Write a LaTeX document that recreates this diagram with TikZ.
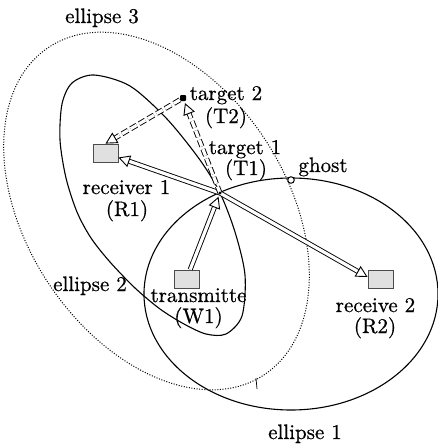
\documentclass[tikz,border=0pt]{standalone}
\usepackage{fontspec}
\setmainfont{lmroman10-regular}[Extension=.otf, FakeBold=0.7]
\usetikzlibrary{arrows.meta}
\begin{document}
\begin{tikzpicture}[x=1pt,y=-1pt,
  curve/.style={line width=1.1pt},
  dotcurve/.style={line width=1pt, dash pattern=on 1pt off 1.6pt},
  box/.style={draw=black!70, fill=black!12, line width=0.8pt,
    minimum width=25pt, minimum height=18pt, inner sep=0pt},
  lbl/.style={anchor=base, inner sep=0pt, font=\fontsize{21}{24}\selectfont},
  beam/.style={double, double distance=3.2pt, line width=0.9pt,
    -{Triangle[open,length=11.5pt,width=12pt]}},
  echo/.style={beam, dash pattern=on 7pt off 3pt},
]
\useasboundingbox (0,0) rectangle (437,447);

% ellipse 1: transmitter / receiver 2
\draw[curve] (291,294) ellipse [x radius=147pt, y radius=116pt];
% ellipse 3 (dotted)
\draw[dotcurve, rotate around={-56.8:(156.5,211)}]
  (156.5,211) ellipse [x radius=196pt, y radius=130pt];
% ellipse 2: transmitter / receiver 1
\draw[curve] plot[smooth cycle, tension=0.5] coordinates {
  (94,75) (130,86) (167,119) (200,160) (220,193)
  (235,232) (245,275) (242,316) (226,334) (206,334)
  (184,324) (160,309) (135,288) (110,262) (91,238) (77,212)
  (66,178) (60,140) (62,104) (72,83)};
% small tick on ellipse 3
\draw[line width=0.7pt] (256,378) -- (257,389);

% stations and targets
\node[box] (R1) at (105.5,153) {};
\node[box] (W1) at (186.5,279) {};
\node[box] (R2) at (380.5,279) {};
\coordinate (T1) at (220,193);
\node[rectangle, rounded corners=1pt, fill=black, inner sep=0pt, minimum size=6pt] (T2) at (183,98) {};
\node[circle, draw, fill=white, inner sep=0pt, minimum size=6.5pt, line width=1pt] (ghost) at (291,180) {};

% propagation paths
\draw[beam, shorten >=4pt] (W1) -- (T1);
\draw[beam] (T1) -- (R1);
\draw[beam] (T1) -- ([yshift=2pt]R2.west);
\draw[echo, shorten >=2pt] (T1) -- (T2);
\draw[echo] (T2) -- (R1.north);
\fill (T1) circle (1.6pt);

% labels
\node[lbl] (e3) at (102,23) {ellipse 3};
\node[lbl] (t2a) at (226,100) {target 2};
\node[lbl] (t2b) at (226,123) {(T2)};
\node[lbl] (t1a) at (245,154) {target 1};
\node[lbl] (t1b) at (246,175) {(T1)};
\node[lbl] (gh) at (323,172) {ghost};
\node[lbl] (r1a) at (126.5,194) {receiver 1};
\node[lbl] (r1b) at (127,216) {(R1)};
\node[lbl] (e2) at (90,291) {ellipse 2};
\node[lbl] (w1a) at (198.5,302) {transmitte};
\node[lbl] (w1b) at (198.5,323) {(W1)};
\node[lbl] (r2a) at (375.5,312) {receive 2};
\node[lbl] (r2b) at (375,333) {(R2)};
\node[lbl] (e1) at (305,439) {ellipse 1};
\end{tikzpicture}
\end{document}
